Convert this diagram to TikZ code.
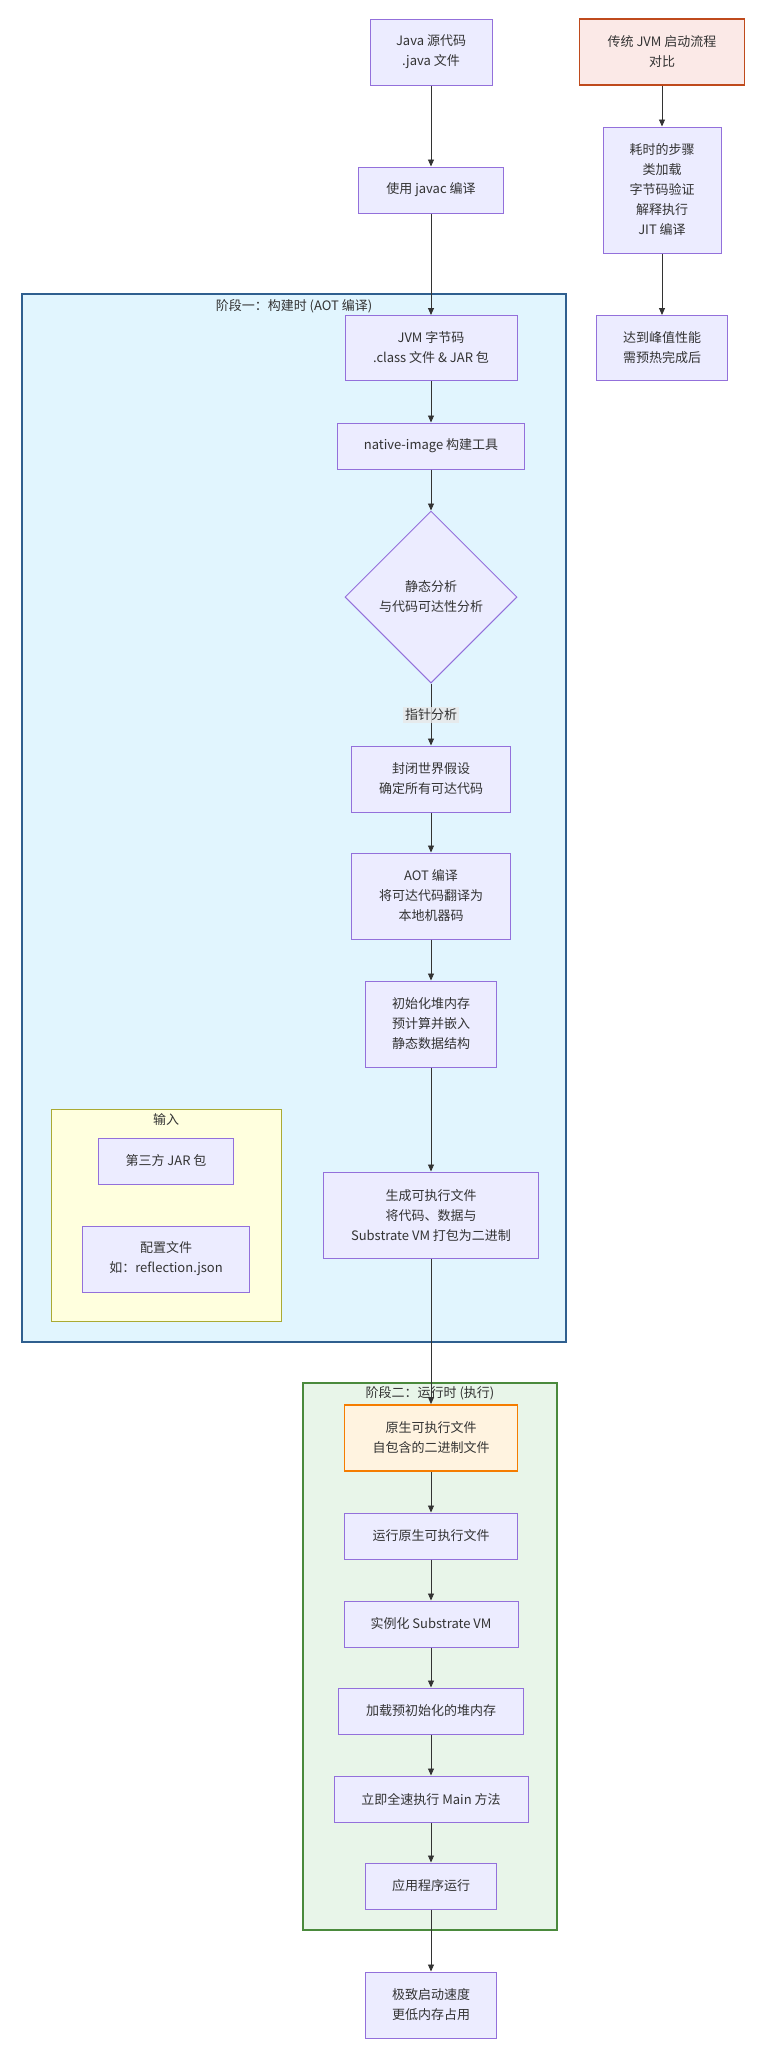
\documentclass[tikz,border=0pt]{standalone}
\usepackage{fontspec}
\setmainfont{Noto Sans CJK SC}
\usetikzlibrary{shapes.geometric,arrows.meta}

\definecolor{nodefill}{HTML}{ECECFF}
\definecolor{nodeline}{HTML}{9370DB}
\definecolor{txt}{HTML}{333333}
\definecolor{buildfill}{HTML}{E1F5FE}
\definecolor{buildline}{HTML}{2F5F8F}
\definecolor{runfill}{HTML}{E8F5E9}
\definecolor{runline}{HTML}{4A8A3C}
\definecolor{inputfill}{HTML}{FFFFDE}
\definecolor{inputline}{HTML}{AAAA33}
\definecolor{tradfill}{HTML}{FBE9E7}
\definecolor{tradline}{HTML}{BF4A1C}
\definecolor{exefill}{HTML}{FFF3E0}
\definecolor{exeline}{HTML}{F57C00}

\tikzset{
  box/.style={draw=nodeline, fill=nodefill, line width=1pt, align=center, text=txt, inner sep=0pt},
  flow/.style={draw=txt, line width=0.9pt, -{Triangle[length=7pt,width=6pt]}},
  elabel/.style={fill=black!9, fill opacity=0.8, text opacity=1, text=txt, inner sep=2pt},
  title/.style={text=txt, inner sep=0pt}
}

\begin{document}
\begin{tikzpicture}[x=1pt, y=-1pt, font=\fontsize{13}{20}\selectfont]
\useasboundingbox[fill=white] (0,0) rectangle (781,2048);

% Phase one
\draw[fill=buildfill, draw=buildline, line width=1.5pt] (22,294) rectangle (566,1342);
\node[title] (buildt) at (294,306) {阶段一：构建时 (AOT 编译)};

% Inputs
\draw[fill=inputfill, draw=inputline, line width=1pt] (51,1109) rectangle (281,1321);
\node[title] (inputt) at (166,1120) {输入};

% Phase two
\draw[fill=runfill, draw=runline, line width=1.5pt] (303,1383) rectangle (557,1930);
\node[title] (runt) at (430,1393) {阶段二：运行时 (执行)};

% Main column
\node[box, minimum width=122, minimum height=66] (java) at (431,52) {Java 源代码\\.java 文件};
\node[box, minimum width=145, minimum height=46] (javac) at (431,190) {使用 javac 编译};
\node[box, minimum width=172, minimum height=65] (jvm) at (431,348) {JVM 字节码\\.class 文件 \& JAR 包};
\node[box, minimum width=187, minimum height=46] (native) at (431,446) {native-image 构建工具};
\node[box, shape=diamond, aspect=1, minimum width=172, minimum height=172] (dia) at (431,597) {静态分析\\与代码可达性分析};
\node[box, minimum width=159, minimum height=66] (closed) at (431,779) {封闭世界假设\\确定所有可达代码};
\node[box, minimum width=159, minimum height=86] (aot) at (431,896) {AOT 编译\\将可达代码翻译为\\本地机器码};
\node[box, minimum width=131, minimum height=86] (init) at (431,1024) {初始化堆内存\\预计算并嵌入\\静态数据结构};
\node[box, minimum width=215, minimum height=86] (gen) at (431,1215) {生成可执行文件\\将代码、数据与\\Substrate VM 打包为二进制};

% Input boxes
\node[box, minimum width=135, minimum height=46] (jar) at (166,1161) {第三方 JAR 包};
\node[box, minimum width=167, minimum height=66] (cfg) at (166,1259) {配置文件\\如：reflection.json};

% Runtime steps
\node[box, fill=exefill, draw=exeline, line width=1.8pt, minimum width=173, minimum height=66] (exe) at (431,1438) {原生可执行文件\\自包含的二进制文件};
\node[box, minimum width=173, minimum height=46] (run) at (431,1536) {运行原生可执行文件};
\node[box, minimum width=174, minimum height=46] (inst) at (431,1624) {实例化 Substrate VM};
\node[box, minimum width=185, minimum height=46] (load) at (431,1711) {加载预初始化的堆内存};
\node[box, minimum width=194, minimum height=46] (mainrun) at (431,1799) {立即全速执行 Main 方法};
\node[box, minimum width=131, minimum height=46] (app) at (431,1886) {应用程序运行};
\node[box, minimum width=131, minimum height=66] (final) at (431,2005) {极致启动速度\\更低内存占用};

% Traditional JVM
\node[box, fill=tradfill, draw=tradline, line width=1.8pt, minimum width=165, minimum height=66] (trad) at (662,52) {传统 JVM 启动流程\\对比};
\node[box, minimum width=118, minimum height=126] (slow) at (662,190) {耗时的步骤\\类加载\\字节码验证\\解释执行\\JIT 编译};
\node[box, minimum width=131, minimum height=65] (peak) at (662,348) {达到峰值性能\\需预热完成后};

% Connectors
\foreach \a/\b in {java/javac, javac/jvm, jvm/native, native/dia, closed/aot, aot/init, init/gen,
                   gen/exe, exe/run, run/inst, inst/load, load/mainrun, mainrun/app, app/final,
                   trad/slow, slow/peak}
  \draw[flow] (\a) -- (\b);
\draw[flow] (dia) -- node[elabel] (ptr) {指针分析} (closed);
\end{tikzpicture}
\end{document}
